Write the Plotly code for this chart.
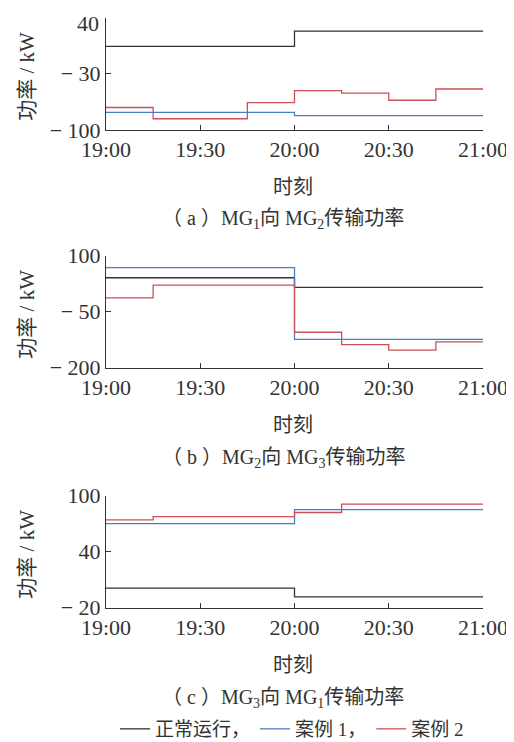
import plotly.graph_objects as go

# time grid (15-min steps, last point repeats final value for step plot)
times = ["2024-01-01 19:00", "2024-01-01 19:15", "2024-01-01 19:30", "2024-01-01 19:45",
         "2024-01-01 20:00", "2024-01-01 20:15", "2024-01-01 20:30", "2024-01-01 20:45",
         "2024-01-01 21:00"]

# Panel (a) MG1 -> MG2
a_normal = [4, 4, 4, 4, 23, 23, 23, 23, 23]
a_case1 = [-78, -78, -78, -78, -82, -82, -82, -82, -82]
a_case2 = [-72, -86, -86, -66, -51, -54, -63, -49, -49]

# Panel (b) MG2 -> MG3
b_normal = [41, 41, 41, 41, 15, 15, 15, 15, 15]
b_case1 = [68, 68, 68, 68, -124, -124, -124, -124, -124]
b_case2 = [-13, 21, 21, 21, -105, -138, -153, -131, -131]

# Panel (c) MG3 -> MG1
c_normal = [1, 1, 1, 1, -8.5, -8.5, -8.5, -8.5, -8.5]
c_case1 = [70, 70, 70, 70, 85, 85, 85, 85, 85]
c_case2 = [74, 77.5, 77.5, 77.5, 82, 91, 91, 91, 91]

x_tickvals = ["2024-01-01 19:00", "2024-01-01 19:30", "2024-01-01 20:00",
              "2024-01-01 20:30", "2024-01-01 21:00"]
x_ticktext = ["19:00", "19:30", "20:00", "20:30", "21:00"]

a_ticks = [-100, -30, 40]
b_ticks = [-200, -50, 100]
c_ticks = [-20, 40, 100]

names = ["正常运行，", "案例 1，", "案例 2"]
colors = ["#333333", "#4a7cc4", "#cc4f55"]
captions = ["（ a ）MG<sub>1</sub>向 MG<sub>2</sub>传输功率",
            "（ b ）MG<sub>2</sub>向 MG<sub>3</sub>传输功率",
            "（ c ）MG<sub>3</sub>向 MG<sub>1</sub>传输功率"]

FONT = "Liberation Serif, Noto Sans CJK SC, serif"
OFF = 8  # default page body margin
W, H = 514, 750

def px(x):
    return (x - OFF) / W

def py(y):
    return 1 - (y - OFF) / H

def fmt(v):
    return ("− " + str(abs(v))) if v < 0 else str(v)

panels = [
    dict(data=[a_normal, a_case1, a_case2], ticks=a_ticks, top=17.5, bottom=130,
         title=187, cap=220),
    dict(data=[b_normal, b_case1, b_case2], ticks=b_ticks, top=255.7, bottom=367.7,
         title=425, cap=458),
    dict(data=[c_normal, c_case1, c_case2], ticks=c_ticks, top=495.7, bottom=607.7,
         title=665, cap=698),
]

fig = go.Figure()
annotations = []
layout = {}
TICKFONT = dict(family=FONT, size=22, color="#333")
for i, p in enumerate(panels):
    k = "" if i == 0 else str(i + 1)
    for j, (vals, nm, col) in enumerate(zip(p["data"], names, colors)):
        fig.add_trace(go.Scatter(
            x=times, y=vals, mode="lines", line=dict(color=col, width=1.3, shape="hv"),
            name=nm, showlegend=(i == 2), legendrank=j,
            xaxis="x" + k, yaxis="y" + k))
    tick_txt = [fmt(v) for v in p["ticks"]]
    if i == 0:
        # top label of first panel sits a little below its tick (kept inside the page)
        annotations.append(dict(text=tick_txt[-1], x=px(101), y=py(23), xref="paper", yref="paper",
                                showarrow=False, xanchor="right", yanchor="middle",
                                font=TICKFONT))
        tick_txt[-1] = ""
    layout["xaxis" + k] = dict(
        domain=[px(106), px(483)], anchor="y" + k, automargin=False,
        range=["2024-01-01 19:00", "2024-01-01 21:00"], ticklabeloverflow="allow",
        tickvals=x_tickvals, ticktext=x_ticktext, ticks="inside", ticklen=5,
        tickcolor="#333", showline=True, linecolor="#333", linewidth=1,
        showgrid=False, zeroline=False, tickfont=TICKFONT,
    )
    layout["yaxis" + k] = dict(
        domain=[py(p["bottom"]), py(p["top"])], anchor="x" + k, automargin=False,
        range=[p["ticks"][0], p["ticks"][-1]], ticklabeloverflow="allow",
        tickvals=p["ticks"], ticktext=tick_txt, ticks="inside", ticklen=5,
        tickcolor="#333", showline=True, linecolor="#333", linewidth=1,
        showgrid=False, zeroline=False, tickfont=TICKFONT,
    )
    mid = (p["top"] + p["bottom"]) / 2 + 3
    annotations.append(dict(text="功率 / kW", x=px(27), y=py(mid), xref="paper", yref="paper",
                            textangle=-90, showarrow=False, xanchor="center", yanchor="middle",
                            font=dict(family=FONT, size=21, color="#333")))
    annotations.append(dict(text="时刻", x=px(293), y=py(p["title"]), xref="paper", yref="paper",
                            showarrow=False, xanchor="center", yanchor="middle",
                            font=dict(family=FONT, size=20, color="#333")))
    annotations.append(dict(text=captions[i], x=px(283), y=py(p["cap"]), xref="paper", yref="paper",
                            showarrow=False, xanchor="center", yanchor="middle",
                            font=dict(family=FONT, size=20, color="#333")))

fig.update_layout(
    width=W, height=H, margin=dict(l=0, r=0, t=0, b=0),
    paper_bgcolor="white", plot_bgcolor="white",
    annotations=annotations,
    legend=dict(orientation="h", x=px(292), xanchor="center", y=py(729), yanchor="middle",
                font=dict(family=FONT, size=19, color="#333"), itemwidth=30,
                tracegroupgap=0, bgcolor="rgba(0,0,0,0)"),
    **layout,
)

fig.write_html("out.html")
